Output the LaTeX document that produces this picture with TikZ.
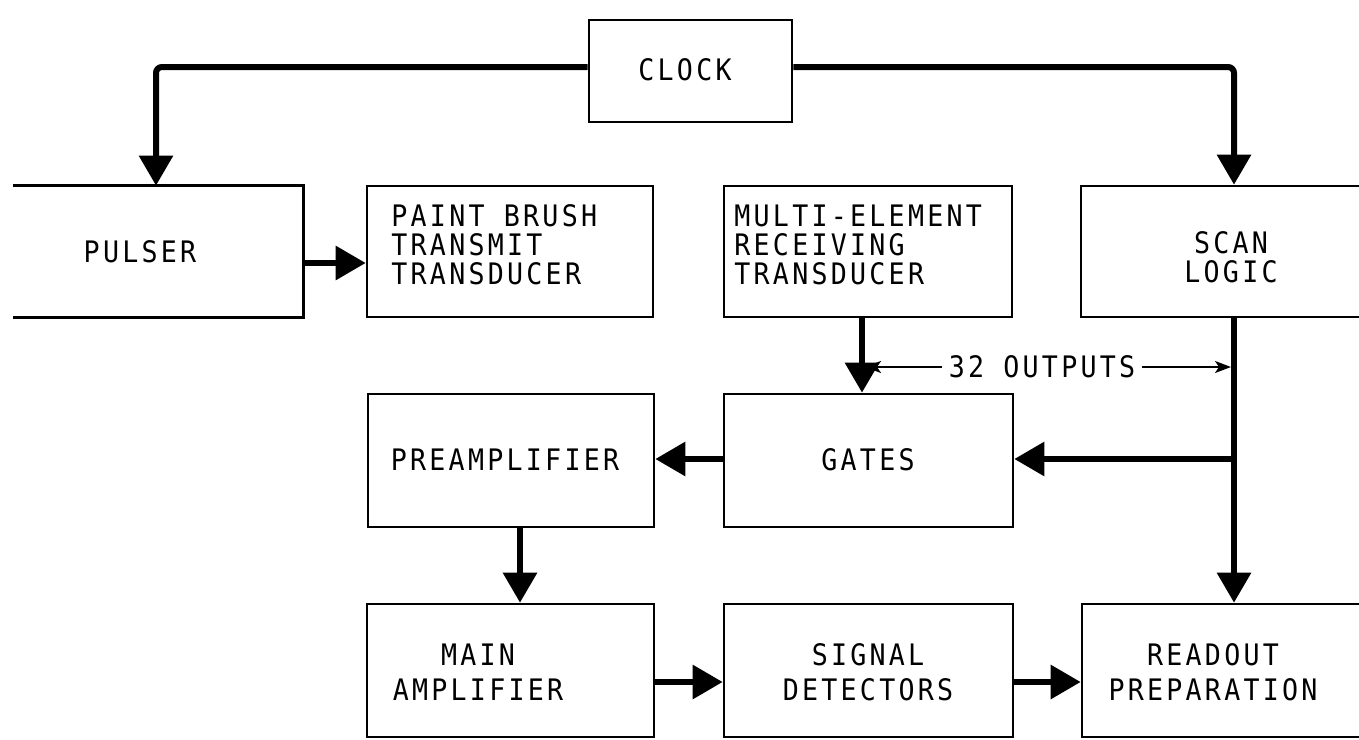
\documentclass[tikz,border=0pt]{standalone}
\usepackage{fontspec}
\usetikzlibrary{arrows.meta}
\newfontfamily\lf[LetterSpace=11,FakeStretch=0.9]{DejaVu Sans Mono}
\newcommand\lbfont{\lf\fontsize{14.8pt}{14.5pt}\selectfont}
\begin{document}
\begin{tikzpicture}[x=0.5pt,y=-0.5pt,
  blk/.style={draw, line width=1.3pt, inner sep=0pt},
  openblk/.style={inner sep=0pt},
  edge/.style={line width=1.3pt},
  lbl/.style={font=\lbfont, inner sep=0pt, align=center},
  lbll/.style={font=\lbfont, inner sep=0pt, align=left, anchor=west},
  flow/.style={line width=3pt, -{Triangle[length=15pt,width=16.5pt]}},
  outarrow/.style={line width=1pt, -{Stealth[length=8pt,width=6pt,inset=2pt]}}]
\useasboundingbox (0,0) rectangle (1359,739);
\clip (0,0) rectangle (1359,739);

% blocks
\node[blk, minimum width=101.5pt, minimum height=51pt] (clock) at (690.5,71) {};
\node[openblk, minimum width=145pt, minimum height=65.5pt] (pulser) at (158,251.5) {};
\draw[edge] (pulser.north west) -- (pulser.north east) -- (pulser.south east) -- (pulser.south west);
\node[blk, minimum width=143pt, minimum height=65.5pt] (paint) at (510,251.5) {};
\node[blk, minimum width=144pt, minimum height=65.5pt] (multi) at (868,251.5) {};
\node[blk, minimum width=150pt, minimum height=65.5pt] (scan) at (1231,251.5) {};
\node[blk, minimum width=143pt, minimum height=66.5pt] (preamp) at (511,460.5) {};
\node[blk, minimum width=144.5pt, minimum height=66.5pt] (gates) at (868.5,460.5) {};
\node[blk, minimum width=143.5pt, minimum height=66.5pt] (main) at (510.5,670.5) {};
\node[blk, minimum width=144.5pt, minimum height=66.5pt] (signal) at (868.5,670.5) {};
\node[blk, minimum width=150pt, minimum height=66.5pt] (readout) at (1232,670.5) {};

% labels
\node[lbl] (tclock) at (685,70) {CLOCK};
\node[lbl] (tpulser) at (140,252) {PULSER};
\node[lbll] (tpaint) at (391,245) {PAINT BRUSH\\TRANSMIT\\TRANSDUCER};
\node[lbll] (tmulti) at (734,245) {MULTI-ELEMENT\\RECEIVING\\TRANSDUCER};
\node[lbl] (tscan) at (1231,257) {SCAN\\LOGIC};
\node[lbl] (tpre) at (505,460) {PREAMPLIFIER};
\node[lbl] (tgates) at (868,460) {GATES};
\node[lbl] (tmain) at (478,672) {MAIN\\[3pt]AMPLIFIER};
\node[lbl] (tsig) at (868,672) {SIGNAL\\[3pt]DETECTORS};
\node[lbl] (tread) at (1213,672) {READOUT\\[3pt]PREPARATION};
\node[lbl, inner sep=3pt] (outs) at (1042,367) {32 OUTPUTS};

% reference coordinates
\coordinate (yc) at (0,67);
\coordinate (ya) at (0,263);
\coordinate (yg) at (0,459);
\coordinate (yb) at (0,682);
\coordinate (xl) at (156,0);
\coordinate (xr) at (1234,0);
\coordinate (xm) at (862,0);
\coordinate (xp) at (520,0);
\coordinate (la) at (865,367);
\coordinate (ra) at (1231,367);

% connectors
\draw[flow, rounded corners=3pt] (clock.west |- yc) -- (xl |- yc) -- (xl |- pulser.north);
\draw[flow, rounded corners=3pt] (clock.east |- yc) -- (xr |- yc) -- (xr |- scan.north);
\draw[flow] (pulser.east |- ya) -- (paint.west |- ya);
\draw[flow] (xm |- multi.south) -- (xm |- gates.north);
\draw[flow] (xr |- scan.south) -- (xr |- readout.north);
\draw[flow] (xr |- yg) -- (gates.east |- yg);
\draw[flow] (gates.west |- yg) -- (preamp.east |- yg);
\draw[flow] (xp |- preamp.south) -- (xp |- main.north);
\draw[flow] (main.east |- yb) -- (signal.west |- yb);
\draw[flow] (signal.east |- yb) -- (readout.west |- yb);
\draw[outarrow] (outs.west) -- (la);
\draw[outarrow] (outs.east) -- (ra);
\end{tikzpicture}
\end{document}
